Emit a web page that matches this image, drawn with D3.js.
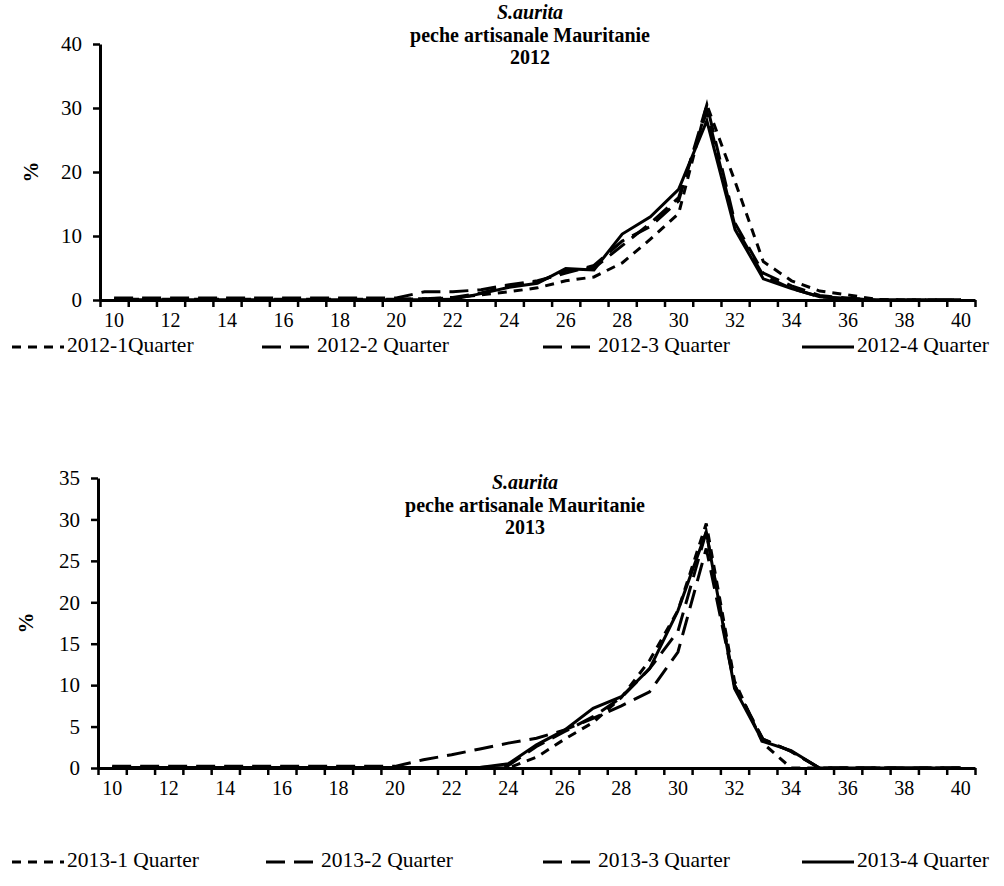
<!DOCTYPE html>
<html>
<head>
<meta charset="utf-8">
<script src="https://cdn.jsdelivr.net/npm/d3@7"></script>
<style>
  body { margin: 0; background: #fff; }
  text { font-family: "Liberation Serif", "Times New Roman", serif; }
</style>
</head>
<body>
<div id="chart"></div>
<script>
// fish length classes (cm)
const sizes = d3.range(10, 41);
const xLabels = sizes.filter(d => d % 2 === 0);

// 2012, % per length class
const q1_2012 = [0.1,0.1,0.1,0.1,0.1,0.1,0.1,0.1,0.1,0.1,0.1, 0.2,0.3,0.8,1.3,1.9,3.0,3.6,5.8,9.5,13.5,30.5,18.5,6.0,3.0,1.4,0.8,0.1,0,0,0];
const q2_2012 = [0.3,0.3,0.3,0.3,0.3,0.3,0.3,0.3,0.3,0.3,0.3, 1.3,1.3,1.6,2.4,3.0,4.2,5.4,9.2,11.5,15.5,30.5,12.0,4.2,2.2,0.7,0.3,0,0,0,0];
const q3_2012 = [0.1,0.1,0.1,0.1,0.1,0.1,0.1,0.1,0.1,0.1,0.1, 0.2,0.4,1.1,2.2,2.8,4.6,5.0,8.5,12.0,16.0,29.5,11.5,3.8,1.8,0.5,0.2,0,0,0,0];
const q4_2012 = [0.05,0.05,0.05,0.05,0.05,0.05,0.05,0.05,0.05,0.05,0.05, 0.05,0.1,1.0,2.0,2.6,4.9,4.7,10.3,13.0,17.3,28.0,11.0,3.3,1.8,0.5,0.2,0,0,0,0];

// 2013
const q1_2013 = [0.05,0.05,0.05,0.05,0.05,0.05,0.05,0.05,0.05,0.05,0.05, 0.05,0.05,0.05,0,1.3,3.5,5.5,8.5,13.0,19.0,29.5,10.5,3.0,0,0,0,0,0,0,0];
const q2_2013 = [0.2,0.2,0.2,0.2,0.2,0.2,0.2,0.2,0.2,0.2,0.2, 1.0,1.6,2.3,3.0,3.6,4.6,6.0,7.5,9.2,14.0,26.5,10.0,3.5,2.0,0,0,0,0,0,0];
const q3_2013 = [0.05,0.05,0.05,0.05,0.05,0.05,0.05,0.05,0.05,0.05,0.05, 0.05,0.05,0.05,0.3,2.6,4.4,6.2,8.5,12.0,16.5,28.5,10.0,3.5,2.0,0,0,0,0,0,0];
const q4_2013 = [0.05,0.05,0.05,0.05,0.05,0.05,0.05,0.05,0.05,0.05,0.05, 0.05,0.05,0.05,0.5,2.8,4.6,7.2,8.6,12.0,19.0,28.5,9.6,3.2,2.1,0,0,0,0,0,0];

const names2012 = ["2012-1Quarter", "2012-2 Quarter", "2012-3 Quarter", "2012-4 Quarter"];
const names2013 = ["2013-1 Quarter", "2013-2 Quarter", "2013-3 Quarter", "2013-4 Quarter"];
const yTicks2012 = d3.range(0, 41, 10);
const yTicks2013 = d3.range(0, 36, 5);

const dashes = ["9,7", "19,9", "19,9", "0"];

const svg = d3.select("#chart").append("svg")
    .attr("width", 1004)
    .attr("height", 886);

function drawChart(cfg) {
    const g = svg.append("g");

    const x = d3.scaleBand()
        .domain(sizes)
        .range([cfg.l, cfg.r])
        .padding(0);
    const xEdge = d3.scaleLinear()
        .domain([0, sizes.length])
        .range([cfg.l, cfg.r]);
    const y = d3.scaleLinear()
        .domain([0, cfg.yMax])
        .range([cfg.b, cfg.t]);

    // series
    const line = d3.line()
        .x((d, i) => x(sizes[i]) + x.bandwidth() / 2)
        .y(d => y(d));
    cfg.series.forEach((s, i) => {
        g.append("path")
            .attr("fill", "none")
            .attr("stroke", "black")
            .attr("stroke-width", 3)
            .attr("stroke-dasharray", dashes[i])
            .attr("d", line(s));
    });

    // x axis: ticks at class boundaries, labels every 2 cm
    g.append("g")
        .attr("transform", `translate(0, ${cfg.b})`)
        .call(d3.axisBottom(xEdge).tickValues(d3.range(0, sizes.length + 1)).tickSize(7).tickSizeOuter(0))
        .call(a => a.selectAll("text").remove())
        .call(a => a.selectAll("line").attr("stroke-width", 2.5))
        .call(a => a.select(".domain").attr("stroke-width", 3));
    g.append("g")
        .attr("transform", `translate(0, ${cfg.b})`)
        .call(d3.axisBottom(x).tickValues(xLabels).tickSize(0).tickPadding(13))
        .call(a => a.select(".domain").remove())
        .call(a => a.selectAll("text").attr("font-size", 20).attr("font-family", "Liberation Serif"));

    // y axis
    g.append("g")
        .attr("transform", `translate(${cfg.l}, 0)`)
        .call(d3.axisLeft(y).tickValues(cfg.yTicks).tickSize(7).tickSizeOuter(0).tickPadding(11))
        .call(a => a.selectAll("line").attr("stroke-width", 2.5))
        .call(a => a.select(".domain").attr("stroke-width", 3))
        .call(a => a.selectAll("text").attr("font-size", 21).attr("font-family", "Liberation Serif"));

    g.append("text")
        .attr("transform", `translate(${cfg.pctX}, ${(cfg.t + cfg.b) / 2}) rotate(-90)`)
        .attr("text-anchor", "middle")
        .attr("dominant-baseline", "middle")
        .attr("font-size", 21)
        .attr("font-weight", "bold")
        .text("%");

    // title
    const tx = cfg.titleX;
    g.append("text").attr("x", tx).attr("y", cfg.titleY).attr("text-anchor", "middle")
        .attr("font-size", 20).attr("font-weight", "bold").attr("font-style", "italic").text("S.aurita");
    g.append("text").attr("x", tx).attr("y", cfg.titleY + 22.5).attr("text-anchor", "middle")
        .attr("font-size", 20).attr("font-weight", "bold").text("peche artisanale Mauritanie");
    g.append("text").attr("x", tx).attr("y", cfg.titleY + 45).attr("text-anchor", "middle")
        .attr("font-size", 20).attr("font-weight", "bold").text(cfg.year);

    // legend
    const leg = g.append("g").attr("transform", `translate(0, ${cfg.legY})`);
    cfg.names.forEach((n, i) => {
        const lx = cfg.legX[i];
        leg.append("line")
            .attr("x1", lx).attr("x2", lx + 52)
            .attr("y1", 0).attr("y2", 0)
            .attr("stroke", "black")
            .attr("stroke-width", 3)
            .attr("stroke-dasharray", dashes[i]);
        leg.append("text")
            .attr("x", lx + 55).attr("y", 0)
            .attr("dominant-baseline", "middle")
            .attr("font-size", 21.5)
            .text(n);
    });
}

drawChart({
    l: 100, r: 975, t: 44, b: 300, yMax: 40, yTicks: yTicks2012,
    series: [q1_2012, q2_2012, q3_2012, q4_2012],
    names: names2012, year: "2012",
    titleX: 530, titleY: 19, pctX: 33,
    legY: 347, legX: [12, 262, 543, 802]
});

drawChart({
    l: 98, r: 975, t: 478, b: 768, yMax: 35, yTicks: yTicks2013,
    series: [q1_2013, q2_2013, q3_2013, q4_2013],
    names: names2013, year: "2013",
    titleX: 525, titleY: 489, pctX: 28,
    legY: 862, legX: [12, 266, 543, 802]
});
</script>
</body>
</html>
